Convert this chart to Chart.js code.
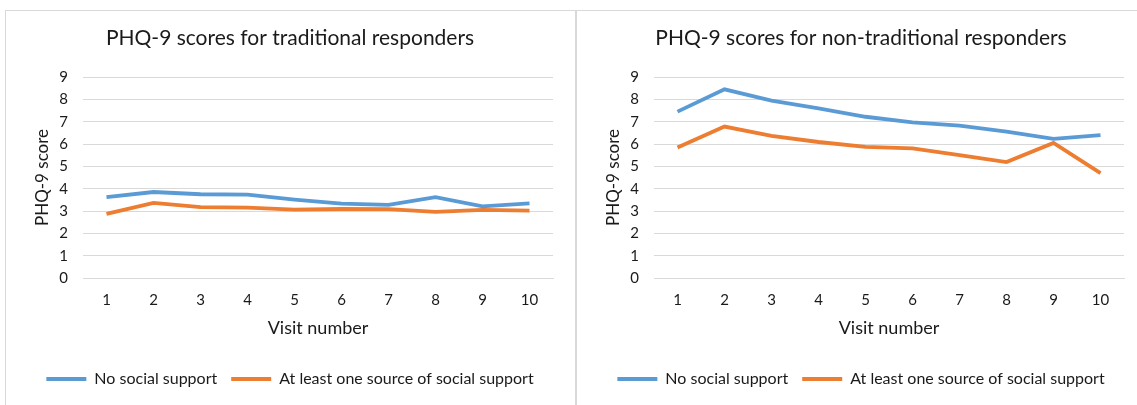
<!DOCTYPE html>
<html>
<head>
<meta charset="utf-8">
<script src="https://cdn.jsdelivr.net/npm/chart.js@4"></script>
<style>
  html, body { margin: 0; padding: 0; background: #fff; overflow: hidden; }
  body { width: 1137px; height: 405px; position: relative; }
  .panel { position: absolute; top: 10px; height: 400px; border: 1px solid #d9d9d9; box-sizing: border-box; }
  .panel canvas { position: absolute; left: 0; top: 0; }
</style>
</head>
<body>
<div class="panel" style="left:5px; width:571px;"><canvas id="tradChart" width="568" height="394"></canvas></div>
<div class="panel" style="left:576px; width:580px;"><canvas id="nonTradChart" width="568" height="394"></canvas></div>
<script>
// visit numbers on the x axis
const visits = ['1','2','3','4','5','6','7','8','9','10'];
const seriesNames = ['No social support', 'At least one source of social support'];

// traditional responders
const tradNoSupport = [3.62, 3.85, 3.75, 3.73, 3.51, 3.33, 3.27, 3.62, 3.21, 3.34];
const tradSupport = [2.87, 3.36, 3.17, 3.15, 3.06, 3.09, 3.08, 2.96, 3.05, 3.02];

// non-traditional responders
const nonTradNoSupport = [7.45, 8.45, 7.94, 7.60, 7.22, 6.97, 6.82, 6.55, 6.23, 6.40];
const nonTradSupport = [5.84, 6.78, 6.36, 6.09, 5.87, 5.80, 5.50, 5.19, 6.05, 4.70];

const blue = '#5b9bd5';
const orange = '#ed7d31';
const gridGrey = '#d9d9d9';
const textColor = '#1a1a1a';
const fontFamily = 'Lato, "Open Sans", sans-serif';

Chart.defaults.font.family = fontFamily;
Chart.defaults.color = textColor;

function makeConfig(title, noSupport, support){
    return {
        type: 'line',
        data: {
            labels: visits,
            datasets: [
                {label: seriesNames[0], data: noSupport, borderColor: blue, backgroundColor: blue,
                 borderWidth: 3.8, pointRadius: 0, tension: 0, pointStyle: 'line'},
                {label: seriesNames[1], data: support, borderColor: orange, backgroundColor: orange,
                 borderWidth: 3.8, pointRadius: 0, tension: 0, pointStyle: 'line'}
            ]
        },
        options: {
            responsive: false,
            animation: false,
            layout: {padding: {left: 0, right: 0, top: 0, bottom: 8}},
            plugins: {
                title: {
                    display: true, text: title, color: textColor,
                    font: {size: 21, weight: 'normal'},
                    padding: {top: 15, bottom: 25.8}
                },
                legend: {
                    position: 'bottom',
                    labels: {
                        usePointStyle: true, pointStyleWidth: 40, padding: 14,
                        font: {size: 16}, color: textColor
                    }
                },
                tooltip: {enabled: false}
            },
            scales: {
                x: {
                    offset: true,
                    grid: {display: false, drawTicks: false},
                    border: {color: gridGrey},
                    ticks: {font: {size: 15}, color: textColor, padding: 13},
                    title: {display: true, text: 'Visit number', font: {size: 18}, color: textColor, padding: {top: 0, bottom: 18}},
                    afterFit: function(scale){ scale.height = 79; }
                },
                y: {
                    min: 0, max: 9,
                    grid: {color: gridGrey, drawTicks: false},
                    border: {display: false},
                    ticks: {stepSize: 1, autoSkip: false, font: {size: 15}, color: textColor, padding: 15},
                    title: {display: true, text: 'PHQ-9 score', font: {size: 17}, color: textColor, padding: {top: 26, bottom: 0}},
                    afterFit: function(scale){ scale.width = 77; }
                },
                // empty right-hand axis that only keeps the right margin
                spacer: {
                    position: 'right',
                    grid: {display: false, drawTicks: false},
                    border: {display: false},
                    ticks: {display: false},
                    afterFit: function(scale){ scale.width = 21; }
                }
            }
        }
    };
}

new Chart(document.getElementById('tradChart').getContext('2d'),
    makeConfig('PHQ-9 scores for traditional responders', tradNoSupport, tradSupport));
new Chart(document.getElementById('nonTradChart').getContext('2d'),
    makeConfig('PHQ-9 scores for non-traditional responders', nonTradNoSupport, nonTradSupport));
</script>
</body>
</html>
